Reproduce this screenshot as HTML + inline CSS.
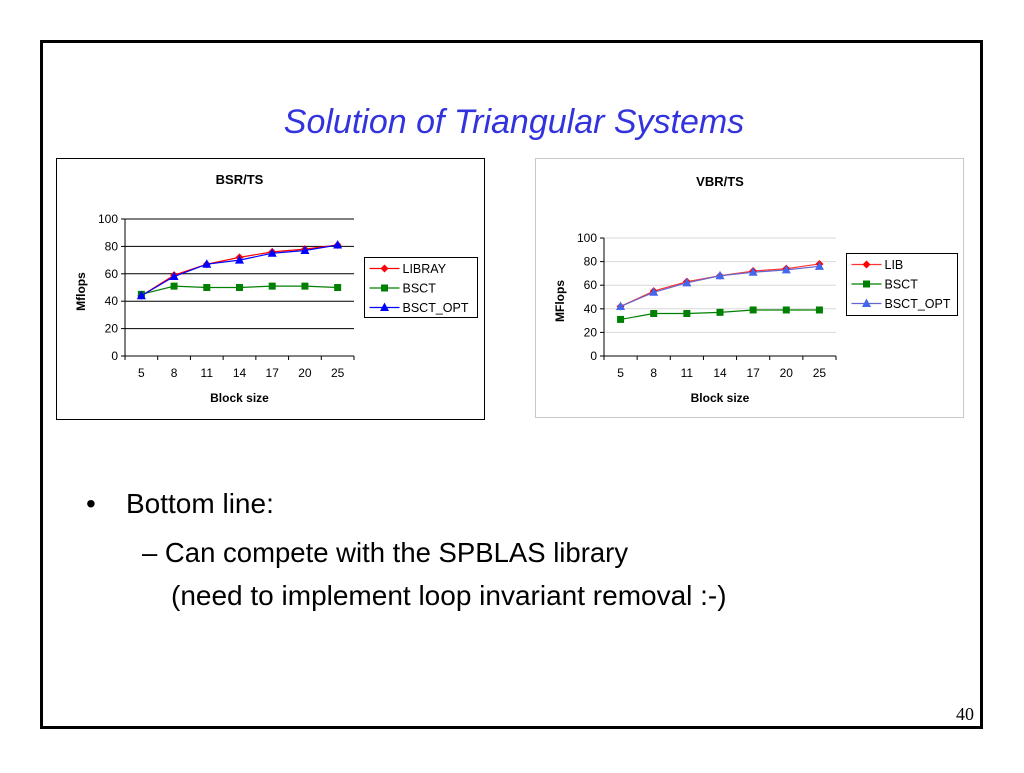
<!DOCTYPE html>
<html><head><meta charset="utf-8">
<style>
html,body{margin:0;padding:0;background:#fff;}
body{width:1024px;height:768px;position:relative;overflow:hidden;font-family:"Liberation Sans",sans-serif;}
</style></head>
<body>
<svg id="s" width="1024" height="768" viewBox="0 0 1024 768" xmlns="http://www.w3.org/2000/svg">
<rect x="41.5" y="41.5" width="940" height="686" fill="#fff" stroke="#000" stroke-width="3"/>
<text x="514" y="133" text-anchor="middle" font-family="Liberation Sans" font-style="italic" font-size="34" fill="#3333dd">Solution of Triangular Systems</text>
<text x="86" y="513" font-size="28" fill="#000">•</text>
<text x="126" y="513" font-size="28" fill="#000">Bottom line:</text>
<text x="142" y="562" font-size="27.5" fill="#000">– Can compete with the SPBLAS library</text>
<text x="171" y="605" font-size="28" fill="#000">(need to implement loop invariant removal :-)</text>
<text x="956" y="720" font-family="Liberation Serif" font-size="18" fill="#000">40</text>
<g id="c1"></g>
<g id="c2"></g>
</svg>
<script>
const categories = ["5","8","11","14","17","20","25"];
const yTicks = [0,20,40,60,80,100];
const bsrLibray = [44,59,67,72,76,78,81];
const bsrBsct = [45,51,50,50,51,51,50];
const bsrOpt = [44,58,67,70,75,77,81];
const vbrLib = [42,55,63,68,72,74,78];
const vbrBsct = [31,36,36,37,39,39,39];
const vbrOpt = [42,54,62,68,71,73,76];

const NS="http://www.w3.org/2000/svg";
function mk(parent,tag,attrs){const e=document.createElementNS(NS,tag);for(const k in attrs)e.setAttribute(k,attrs[k]);parent.appendChild(e);return e;}

function chart(g,cfg){
  const frame=mk(g,'rect',{x:cfg.fx,y:cfg.fy,width:cfg.fw,height:cfg.fh,fill:'#fff',stroke:cfg.frameColor,'stroke-width':1});
  
  
  const x0=cfg.px0,x1=cfg.px1,yT=cfg.py0,yB=cfg.py1;
  const n=categories.length, bw=(x1-x0)/n;
  const xs=i=>x0+bw*(i+0.5);
  const ys=v=>yB-(v/100)*(yB-yT);
  const t=mk(g,'text',{x:(x0+x1)/2,y:cfg.titleY,'text-anchor':'middle','font-size':13,'font-weight':'bold'});
  t.textContent=cfg.title;
  
  
  yTicks.forEach(v=>{
    const y=ys(v);
    if(v>0){const gl=mk(g,'line',{x1:x0,x2:x1,y1:y,y2:y,stroke:cfg.gridColor,'stroke-width':1});
      
      }
    mk(g,'line',{x1:x0-4,x2:x0,y1:y,y2:y,stroke:'#000'});
    const tl=mk(g,'text',{x:x0-7,y:y+4,'text-anchor':'end','font-size':12});
    tl.textContent=v;
    
    
  });
  mk(g,'line',{x1:x0,x2:x0,y1:yT,y2:yB,stroke:'#000'});
  mk(g,'line',{x1:x0,x2:x1,y1:yB,y2:yB,stroke:'#000'});
  for(let i=0;i<=n;i++)mk(g,'line',{x1:x0+bw*i,x2:x0+bw*i,y1:yB,y2:yB+4,stroke:'#000'});
  categories.forEach((c,i)=>{
    const tl=mk(g,'text',{x:xs(i),y:yB+21,'text-anchor':'middle','font-size':12});
    tl.textContent=c;
    
    
  });
  const xt=mk(g,'text',{x:(x0+x1)/2,y:yB+46,'text-anchor':'middle','font-size':12,'font-weight':'bold'});
  xt.textContent='Block size';
  
  
  const ty=(yT+yB)/2+4, tx=x0-40;
  const yt=mk(g,'text',{x:tx,y:ty,'text-anchor':'middle','font-size':12,'font-weight':'bold',transform:`rotate(-90 ${tx} ${ty})`});
  yt.textContent=cfg.ylabel;
  
  
  function marker(parent,kind,cx,cy,color){
    let m;
    if(kind==='d')m=mk(parent,'polygon',{points:`${cx},${cy-4} ${cx+4},${cy} ${cx},${cy+4} ${cx-4},${cy}`,fill:color});
    else if(kind==='s')m=mk(parent,'rect',{x:cx-3.5,y:cy-3.5,width:7,height:7,fill:color});
    else m=mk(parent,'polygon',{points:`${cx},${cy-5} ${cx+4.5},${cy+3.5} ${cx-4.5},${cy+3.5}`,fill:color});
    
    
  }
  cfg.series.forEach(s=>{
    const sg=mk(g,'g',{});
    
    
    const pl=mk(sg,'polyline',{points:s.data.map((v,i)=>xs(i)+','+ys(v)).join(' '),fill:'none',stroke:s.line,'stroke-width':1.2});
    
    
    s.data.forEach((v,i)=>marker(sg,s.kind,xs(i),ys(v),s.color));
  });
  const L=cfg.legend;
  const lg=mk(g,'g',{});
  
  
  mk(lg,'rect',{x:L.x,y:L.y,width:L.w,height:L.h,fill:'#fff',stroke:'#000'});
  cfg.series.forEach((s,i)=>{
    const y=L.y+11+i*19.5;
    const e=mk(lg,'g',{});
    
    
    mk(e,'line',{x1:L.x+5,x2:L.x+35,y1:y,y2:y,stroke:s.line,'stroke-width':1.2});
    marker(e,s.kind,L.x+20,y,s.color);
    const lt=mk(e,'text',{x:L.x+38,y:y+4.5,'font-size':12.5});
    lt.textContent=s.name;
  });
}

chart(document.getElementById('c1'),{
  fx:56.5,fy:158.5,fw:428,fh:261,frameColor:'#000',gridColor:'#000',
  px0:125,px1:354,py0:219,py1:356,titleY:184,title:'BSR/TS',ylabel:'Mflops',
  legend:{x:364.5,y:257.5,w:113,h:60},
  series:[
    {name:'LIBRAY',data:bsrLibray,kind:'d',color:'#ff0000',line:'#ff0000'},
    {name:'BSCT',data:bsrBsct,kind:'s',color:'#008000',line:'#008000'},
    {name:'BSCT_OPT',data:bsrOpt,kind:'t',color:'#0000ff',line:'#0000ff'}
  ]
});
chart(document.getElementById('c2'),{
  fx:535.5,fy:158.5,fw:428,fh:259,frameColor:'#c8c8c8',gridColor:'#d8d8d8',
  px0:604,px1:836,py0:238,py1:356,titleY:186,title:'VBR/TS',ylabel:'MFlops',
  legend:{x:846.5,y:253.5,w:111,h:62},
  series:[
    {name:'LIB',data:vbrLib,kind:'d',color:'#ff0000',line:'#ff3333'},
    {name:'BSCT',data:vbrBsct,kind:'s',color:'#008000',line:'#008000'},
    {name:'BSCT_OPT',data:vbrOpt,kind:'t',color:'#4466ee',line:'#6666cc'}
  ]
});
</script>
</body></html>
